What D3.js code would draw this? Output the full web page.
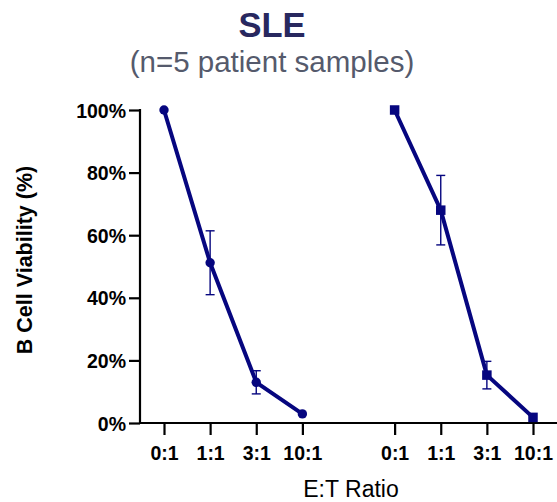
<!DOCTYPE html>
<html>
<head>
<meta charset="utf-8">
<script src="https://cdn.jsdelivr.net/npm/d3@7"></script>
<style>
  html, body { margin: 0; padding: 0; background: #fff; }
  svg { display: block; font-family: "Liberation Sans", Arial, sans-serif; }
  svg text { font-family: "Liberation Sans", Arial, sans-serif; }
</style>
</head>
<body>
<svg id="chart" width="557" height="502"></svg>
<script>
// E:T ratio categories, shown once per group
const ratios = ["0:1", "1:1", "3:1", "10:1"];
// Mean B cell viability (%) and SD for the two groups
const circleMeans = [100, 51.2, 13.0, 2.9];
const circleSD = [0, 10.2, 3.7, 0];
const squareMeans = [100, 68.0, 15.3, 1.8];
const squareSD = [0, 11.1, 4.4, 0];
const yTicks = [0, 20, 40, 60, 80, 100];

const navy = "#06067f";
const svg = d3.select("#chart");

// Slot positions: group one at 0..3, group two at 5..8
const x = d3.scaleLinear().domain([0, 8]).range([164, 533]);
const y = d3.scaleLinear().domain([0, 100]).range([423, 110]);

const groups = [
  { means: circleMeans, sd: circleSD, offset: 0, shape: "circle" },
  { means: squareMeans, sd: squareSD, offset: 5, shape: "square" }
];

// Y axis
const yAxis = svg.append("g")
  .attr("transform", "translate(140,0)")
  .call(d3.axisLeft(y).tickValues(yTicks).tickFormat(d => d + "%").tickSize(11).tickSizeOuter(0));
yAxis.select(".domain").attr("stroke", "#000").attr("stroke-width", 2.2)
  .attr("d", `M0,${y(100) - 1}V${y(0) + 1}`);
yAxis.selectAll(".tick line").attr("stroke", "#000").attr("stroke-width", 2.2);
yAxis.selectAll(".tick text")
  .style("font-size", "19.5px").style("font-weight", "bold")
  .attr("fill", "#000").attr("x", -14).attr("dy", "0.36em");

// X axis line spanning both groups
svg.append("line")
  .attr("x1", 139).attr("x2", 557)
  .attr("y1", y(0)).attr("y2", y(0))
  .attr("stroke", "#000").attr("stroke-width", 2.2);

// X ticks and labels for each group
groups.forEach(g => {
  const xa = svg.append("g")
    .attr("transform", `translate(0,${y(0)})`)
    .call(d3.axisBottom(x).tickValues(ratios.map((r, i) => i + g.offset))
      .tickFormat(v => ratios[v - g.offset]).tickSize(12).tickSizeOuter(0));
  xa.select(".domain").remove();
  xa.selectAll(".tick line").attr("stroke", "#000").attr("stroke-width", 2.2);
  xa.selectAll(".tick text")
    .style("font-size", "19.5px").style("font-weight", "bold")
    .attr("fill", "#000").attr("y", 37).attr("dy", null);
});

// Data: error bars, connecting line, markers
groups.forEach(g => {
  const pts = g.means.map((m, i) => ({ xi: i + g.offset, m, sd: g.sd[i] }));

  const eb = svg.append("g").attr("stroke", navy).attr("stroke-width", 1.4).attr("fill", "none");
  pts.filter(p => p.sd > 0).forEach(p => {
    const cx = x(p.xi), top = y(p.m + p.sd), bot = y(p.m - p.sd);
    eb.append("line").attr("x1", cx).attr("x2", cx).attr("y1", top).attr("y2", bot);
    eb.append("line").attr("x1", cx - 4.5).attr("x2", cx + 4.5).attr("y1", top).attr("y2", top);
    eb.append("line").attr("x1", cx - 4.5).attr("x2", cx + 4.5).attr("y1", bot).attr("y2", bot);
  });

  svg.append("path")
    .datum(pts)
    .attr("fill", "none").attr("stroke", navy).attr("stroke-width", 4)
    .attr("stroke-linejoin", "round")
    .attr("d", d3.line().x(p => x(p.xi)).y(p => y(p.m)));

  if (g.shape === "circle") {
    svg.selectAll(null).data(pts).enter().append("circle")
      .attr("cx", p => x(p.xi)).attr("cy", p => y(p.m)).attr("r", 4.7)
      .attr("fill", navy);
  } else {
    const s = 9.5;
    svg.selectAll(null).data(pts).enter().append("rect")
      .attr("x", p => x(p.xi) - s / 2).attr("y", p => y(p.m) - s / 2)
      .attr("width", s).attr("height", s).attr("fill", navy);
  }
});

// Titles
svg.append("text").attr("x", 272).attr("y", 37).attr("text-anchor", "middle")
  .style("font-size", "34.5px").style("font-weight", "bold").attr("fill", "#28285f")
  .text("SLE");
svg.append("text").attr("x", 272).attr("y", 72).attr("text-anchor", "middle")
  .style("font-size", "29.5px").attr("fill", "#555a6c")
  .text("(n=5 patient samples)");

// Axis titles
svg.append("text").attr("x", 351).attr("y", 497).attr("text-anchor", "middle")
  .style("font-size", "23px").attr("fill", "#000").text("E:T Ratio");
svg.append("text")
  .attr("transform", "translate(32,260) rotate(-90)")
  .attr("text-anchor", "middle").style("font-size", "21.5px").style("font-weight", "bold")
  .attr("fill", "#000").text("B Cell Viability (%)");
</script>
</body>
</html>
